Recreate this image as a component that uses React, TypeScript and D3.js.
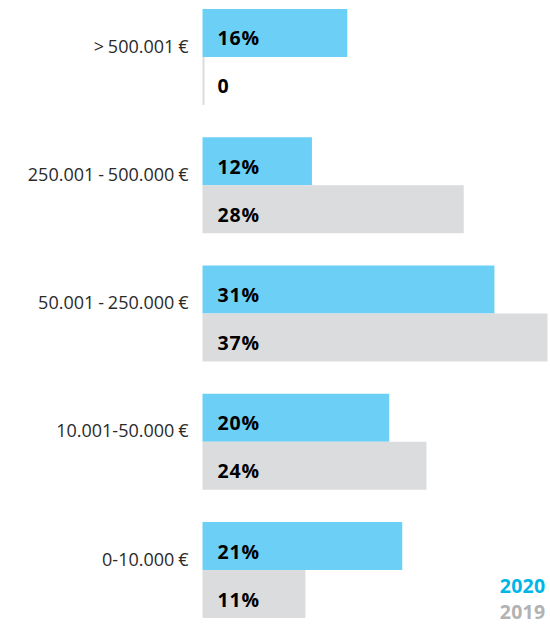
import React from "react";
import * as d3 from "d3";

const categories = ["> 500.001 €", "250.001 - 500.000 €", "50.001 - 250.000 €", "10.001-50.000 €", "0-10.000 €"];
const series = ["2020", "2019"];
const values2020 = [15.5, 11.7, 31.3, 20.0, 21.4];
const values2019 = [0, 28, 37, 24, 11];

const W = 550;
const H = 624;
const barColors: Record<string, string> = { "2020": "#6ccff6", "2019": "#dbdcde" };
const legendColors: Record<string, string> = { "2020": "#00b6e6", "2019": "#b2b2b2" };
const FONT = "'Open Sans', 'Noto Sans', sans-serif";

export default function App() {
  const y = d3.scaleBand<string>().domain(categories).range([9, 618]).paddingInner(0.2515).paddingOuter(0);
  const ySub = d3.scaleBand<string>().domain(series).range([0, y.bandwidth()]);
  const x = d3.scaleLinear().domain([0, 37]).range([203, 547.5]);
  const data = categories.map((c, i) => ({ c, vals: { "2020": values2020[i], "2019": values2019[i] } as Record<string, number> }));

  return (
    <svg width={W} height={H} style={{ position: "absolute", left: 0, top: 0, background: "#fff" }}>
      {data.map((d) => {
        const gy = y(d.c)!;
        return (
          <g key={d.c}>
            <text x={188.5} y={gy + 43.5} textAnchor="end" fontFamily={FONT} fontSize={18} wordSpacing={-0.8} fill="#2a2a2a">
              {d.c}
            </text>
            {series.map((s) => {
              const v = d.vals[s];
              const by = gy + ySub(s)!;
              const w = Math.max(x(v) - x(0), 1.5);
              return (
                <g key={s}>
                  <rect x={x(0) - 0.5} y={by} width={w + 0.5} height={ySub.bandwidth()} fill={barColors[s]} />
                  <text x={x(0) + 14.5} y={by + ySub.bandwidth() / 2 + 12.5} fontFamily={FONT} fontWeight={700} fontSize={19.5} letterSpacing={0.8} fill="#000">
                    {v === 0 ? "0" : `${Math.round(v)}%`}
                  </text>
                </g>
              );
            })}
          </g>
        );
      })}
      {series.map((s, i) => (
        <text key={s} x={545.5} y={593 + i * 25.5} textAnchor="end" fontFamily={FONT} fontWeight={700} fontSize={19.5} letterSpacing={0.3} fill={legendColors[s]}>
          {s}
        </text>
      ))}
    </svg>
  );
}
